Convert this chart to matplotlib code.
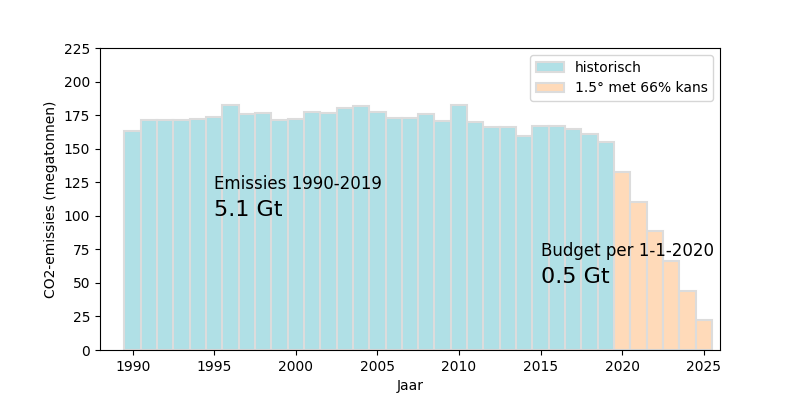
import numpy as np
import matplotlib
matplotlib.use("Agg")
import matplotlib.pyplot as plt

# historische uitstoot 1990-2019 (megatonnen)
jaren_hist = list(range(1990, 2020))
hist = [163.4, 171.4, 171.1, 171.4, 172.1, 173.6, 182.8, 175.6, 176.8, 171.4,
        172.4, 177.3, 176.6, 180.1, 181.8, 177.6, 172.9, 172.9, 175.9, 170.6,
        182.6, 169.6, 166.4, 166.2, 159.2, 166.9, 166.9, 165.0, 161.0, 155.2]
# budget 1.5 graden, 66% kans
jaren_budget = list(range(2020, 2026))
budget = [132.8, 110.5, 88.7, 66.5, 44.2, 22.1]

fig, ax = plt.subplots(figsize=(8, 4), dpi=100)
fig.subplots_adjust(left=0.125, right=0.9, top=0.88, bottom=0.125)

ax.bar(jaren_hist, hist, width=1, color="powderblue", edgecolor="gainsboro",
       linewidth=1.5, label="historisch")
ax.bar(jaren_budget, budget, width=1, color="peachpuff", edgecolor="gainsboro",
       linewidth=1.5, label="1.5° met 66% kans")

ax.text(1995, 120, "Emissies 1990-2019", fontsize=12)
ax.text(1995, 100, "5.1 Gt", fontsize=16)
ax.text(2015, 70, "Budget per 1-1-2020", fontsize=12)
ax.text(2015, 50, "0.5 Gt", fontsize=16)

ax.set_xlim(1988, 2026)
ax.set_ylim(0, 225)
ax.set_yticks(np.arange(0, 226, 25))
ax.set_xlabel("Jaar")
ax.set_ylabel("CO2-emissies (megatonnen)")
ax.legend(loc="upper right")

plt.savefig("out.png")
